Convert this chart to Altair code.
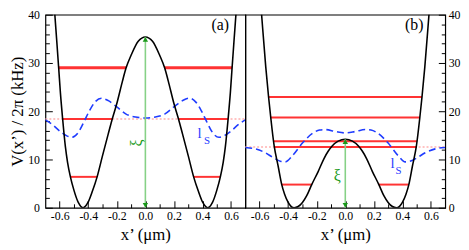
import altair as alt
import pandas as pd

SERIF = "Liberation Serif, Times New Roman, serif"

# ---------------- panel (a) ----------------
a_pot_x = [-0.70, -0.66, -0.634, -0.62, -0.607, -0.595, -0.58, -0.56, -0.545, -0.525, -0.50, -0.47,
           -0.437, -0.40, -0.37, -0.338, -0.30, -0.26, -0.232, -0.20, -0.16, -0.136, -0.10, -0.05,
           0.00, 0.05, 0.10, 0.136, 0.16, 0.20, 0.232, 0.26, 0.30, 0.338, 0.37, 0.40, 0.437, 0.47,
           0.50, 0.525, 0.545, 0.56, 0.58, 0.595, 0.607, 0.62, 0.634, 0.66, 0.70]
a_pot_v = [68.0, 51.0, 40.0, 34.3, 28.9, 23.8, 18.6, 12.6, 9.4, 6.4, 3.6, 1.1,
           0.0, 1.2, 3.5, 6.4, 10.8, 15.3, 18.4, 21.6, 26.3, 28.9, 31.6, 34.5,
           35.4, 34.5, 31.6, 28.9, 26.3, 21.6, 18.4, 15.3, 10.8, 6.4, 3.5, 1.2, 0.0, 1.1,
           3.6, 6.4, 9.4, 12.6, 18.6, 23.8, 28.9, 34.3, 40.0, 51.0, 68.0]
a_wav_x = [-0.70, -0.65, -0.60, -0.55, -0.515, -0.47, -0.43, -0.39, -0.35, -0.308, -0.26, -0.20,
           -0.135, -0.07, 0.00, 0.07, 0.135, 0.20, 0.26, 0.308, 0.35, 0.39, 0.43, 0.47, 0.515,
           0.55, 0.60, 0.65, 0.70]
a_wav_v = [18.2, 17.2, 15.9, 14.9, 14.6, 15.6, 17.8, 20.2, 22.0, 22.7, 22.2, 20.9,
           19.4, 18.8, 18.6, 18.8, 19.4, 20.9, 22.2, 22.7, 22.0, 20.2, 17.8, 15.6, 14.6,
           14.9, 15.9, 17.2, 18.2]
a_lvl_v = [29.1, 29.1, 28.9, 28.9, 18.4, 18.4, 6.4, 6.4]
a_lvl_x1 = [-0.608, 0.135, -0.607, 0.136, -0.578, 0.232, -0.525, 0.338]
a_lvl_x2 = [-0.135, 0.608, -0.136, 0.607, -0.232, 0.578, -0.338, 0.525]
a_base = 18.4
a_barrier = 35.4

# ---------------- panel (b) ----------------
b_pot_x = [-0.70, -0.62, -0.586, -0.557, -0.537, -0.522, -0.498, -0.47, -0.445, -0.425, -0.40,
           -0.38, -0.358, -0.33, -0.30, -0.27, -0.235, -0.19, -0.149, -0.12, -0.092, -0.05,
           0.00, 0.05, 0.092, 0.12, 0.149, 0.19, 0.235, 0.27, 0.30, 0.33, 0.358, 0.38, 0.40,
           0.425, 0.445, 0.47, 0.498, 0.522, 0.537, 0.557, 0.586, 0.62, 0.70]
b_pot_v = [85.0, 53.0, 40.0, 29.2, 22.9, 18.7, 12.8, 8.6, 4.8, 2.8, 1.1,
           0.3, 0.0, 0.25, 1.1, 2.5, 4.8, 7.5, 10.2, 11.7, 12.8, 13.8,
           14.2, 13.8, 12.8, 11.7, 10.2, 7.5, 4.8, 2.5, 1.1, 0.25, 0.0, 0.3, 1.1,
           2.8, 4.8, 8.6, 12.8, 18.7, 22.9, 29.2, 40.0, 53.0, 85.0]
b_wav_x = [-0.70, -0.63, -0.56, -0.50, -0.45, -0.42, -0.37, -0.30, -0.23, -0.18, -0.14, -0.07,
           0.00, 0.07, 0.14, 0.18, 0.23, 0.30, 0.37, 0.42, 0.45, 0.50, 0.56, 0.63, 0.70]
b_wav_v = [12.5, 12.2, 11.4, 10.3, 9.6, 9.5, 10.8, 13.4, 15.4, 16.1, 16.2, 15.8,
           15.5, 15.8, 16.2, 16.1, 15.4, 13.4, 10.8, 9.5, 9.6, 10.3, 11.4, 12.2, 12.5]
b_lvl_v = [22.95, 18.7, 13.8, 12.6, 4.8, 4.8]
b_lvl_x1 = [-0.537, -0.522, -0.503, -0.498, -0.445, 0.235]
b_lvl_x2 = [0.537, 0.522, 0.503, 0.498, -0.235, 0.445]
b_base = 12.6
b_barrier = 14.2

X_MAJOR = [-0.6, -0.4, -0.2, 0.0, 0.2, 0.4, 0.6]
X_MINOR = [-0.5, -0.3, -0.1, 0.1, 0.3, 0.5]
Y_MAJOR = [0, 10, 20, 30, 40]
Y_MINOR = [2, 4, 6, 8, 12, 14, 16, 18, 22, 24, 26, 28, 32, 34, 36, 38]

XS = alt.Scale(domain=[-0.7, 0.7], nice=False, zero=False)
YS = alt.Scale(domain=[0, 40], nice=False, zero=False)

RED = "#ff3333"
BLUE = "#1f3cff"
GREEN_L = "#86d186"
GREEN_D = "#1a9a1a"


def x_major():
    return alt.Axis(values=X_MAJOR, orient="bottom",
                    labelExpr="(datum.value < 0 ? '-' : '') + format(abs(datum.value), '.1f')",
                    tickSize=7, offset=-7, domain=False, grid=False, tickColor="black",
                    labelPadding=3, labelFont=SERIF, labelFontSize=12, labelColor="black",
                    title="x\u2019 (\u03bcm)", titleFont=SERIF, titleFontSize=17,
                    titleFontWeight="normal", titleColor="black", titlePadding=5)


def x_minor():
    return alt.Axis(values=X_MINOR, orient="bottom", tickSize=4, offset=-4, domain=False,
                    grid=False, labels=False, tickColor="black", title="")


def y_major(orient):
    kw = dict(values=Y_MAJOR, orient=orient, tickSize=7, offset=-7, domain=False, grid=False,
              tickColor="black", labelPadding=6, labelFont=SERIF, labelFontSize=12,
              labelColor="black")
    if orient == "left":
        kw.update(title="V(x\u2019) / 2\u03c0  (kHz)", titleFont=SERIF, titleFontSize=17,
                  titleFontWeight="normal", titleColor="black", titlePadding=1)
    else:
        kw.update(title="", labelPadding=3)
    return alt.Axis(**kw)


def y_minor(orient):
    return alt.Axis(values=Y_MINOR, orient=orient, tickSize=4, offset=-4, domain=False,
                    grid=False, labels=False, tickColor="black", title="")


def make_panel(pot_x, pot_v, wav_x, wav_v, lv_v, lv_x1, lv_x2, base, barrier,
               xi_x, xi_v, xi_angle, l_x, l_v, s_x, s_v, tag, tag_x, tag_v, orient):
    pot = pd.DataFrame({"x": pot_x, "v": pot_v})
    wav = pd.DataFrame({"x": wav_x, "v": wav_v})
    lv = pd.DataFrame({"x1": lv_x1, "x2": lv_x2, "v": lv_v})
    basedf = pd.DataFrame({"x1": [-0.7], "x2": [0.7], "v": [base]})
    arrow = pd.DataFrame({"x": [0.0], "v0": [0.0], "v1": [barrier]})
    top = pd.DataFrame({"x": [0.0], "v": [barrier]})
    bot = pd.DataFrame({"x": [0.0], "v": [0.0]})
    xi = pd.DataFrame({"x": [xi_x], "v": [xi_v], "t": ["\u03be"]})
    ldf = pd.DataFrame({"x": [l_x], "v": [l_v], "t": ["l"]})
    sdf = pd.DataFrame({"x": [s_x], "v": [s_v], "t": ["S"]})
    tg = pd.DataFrame({"x": [tag_x], "v": [tag_v], "t": [tag]})

    base_l = alt.Chart(basedf).mark_rule(color="#ffb0b0", strokeDash=[2, 2], strokeWidth=1.5).encode(
        x=alt.X("x1:Q", scale=XS, axis=None), x2="x2", y=alt.Y("v:Q", scale=YS, axis=None))
    levels = alt.Chart(lv).mark_rule(color=RED, strokeWidth=2).encode(
        x=alt.X("x1:Q", scale=XS, axis=None), x2="x2", y=alt.Y("v:Q", scale=YS, axis=None))
    wave = alt.Chart(wav).mark_line(color=BLUE, strokeDash=[7, 4], strokeWidth=1.6,
                                    interpolate="monotone", clip=True).encode(
        x=alt.X("x:Q", scale=XS, axis=x_minor()), y=alt.Y("v:Q", scale=YS, axis=y_minor(orient)))
    curve = alt.Chart(pot).mark_line(color="black", strokeWidth=1.6, interpolate="monotone",
                                     clip=True).encode(
        x=alt.X("x:Q", scale=XS, axis=x_major()), y=alt.Y("v:Q", scale=YS, axis=y_major(orient)))
    arr = alt.Chart(arrow).mark_rule(color=GREEN_L, strokeWidth=1.6).encode(
        x=alt.X("x:Q", scale=XS, axis=None), y=alt.Y("v0:Q", scale=YS, axis=None), y2="v1")
    head_up = alt.Chart(top).mark_point(shape="triangle-up", filled=True, color=GREEN_D, size=30,
                                        yOffset=2.5, opacity=1).encode(
        x=alt.X("x:Q", scale=XS, axis=None), y=alt.Y("v:Q", scale=YS, axis=None))
    head_dn = alt.Chart(bot).mark_point(shape="triangle-down", filled=True, color=GREEN_D, size=30,
                                        yOffset=-2.5, opacity=1).encode(
        x=alt.X("x:Q", scale=XS, axis=None), y=alt.Y("v:Q", scale=YS, axis=None))
    xi_t = alt.Chart(xi).mark_text(font=SERIF, fontSize=16, color=GREEN_D, angle=xi_angle).encode(
        x=alt.X("x:Q", scale=XS, axis=None), y=alt.Y("v:Q", scale=YS, axis=None), text="t:N")
    l_t = alt.Chart(ldf).mark_text(font=SERIF, fontSize=15, color=BLUE).encode(
        x=alt.X("x:Q", scale=XS, axis=None), y=alt.Y("v:Q", scale=YS, axis=None), text="t:N")
    s_t = alt.Chart(sdf).mark_text(font=SERIF, fontSize=11, color=BLUE).encode(
        x=alt.X("x:Q", scale=XS, axis=None), y=alt.Y("v:Q", scale=YS, axis=None), text="t:N")
    tag_t = alt.Chart(tg).mark_text(font=SERIF, fontSize=16, color="black").encode(
        x=alt.X("x:Q", scale=XS, axis=None), y=alt.Y("v:Q", scale=YS, axis=None), text="t:N")

    return alt.layer(base_l, levels, wave, curve, arr, head_up, head_dn, xi_t, l_t, s_t, tag_t).resolve_axis(
        x="independent", y="independent").properties(width=203, height=196)


pa = make_panel(a_pot_x, a_pot_v, a_wav_x, a_wav_v, a_lvl_v, a_lvl_x1, a_lvl_x2, a_base, a_barrier,
                -0.055, 13.4, 270, 0.38, 15.4, 0.432, 13.9, "(a)", 0.524, 37.8, "left")
pb = make_panel(b_pot_x, b_pot_v, b_wav_x, b_wav_v, b_lvl_v, b_lvl_x1, b_lvl_x2, b_base, b_barrier,
                -0.057, 6.55, 0, 0.331, 9.2, 0.372, 7.7, "(b)", 0.483, 37.8, "right")

chart = alt.hconcat(pa, pb, spacing=0, bounds="flush").properties(
    padding={"top": -2, "left": 0, "right": 0, "bottom": 0}
).configure_view(stroke="black", strokeWidth=1.2)

chart.save("out.html", embed_options={"renderer": "svg", "actions": False})
